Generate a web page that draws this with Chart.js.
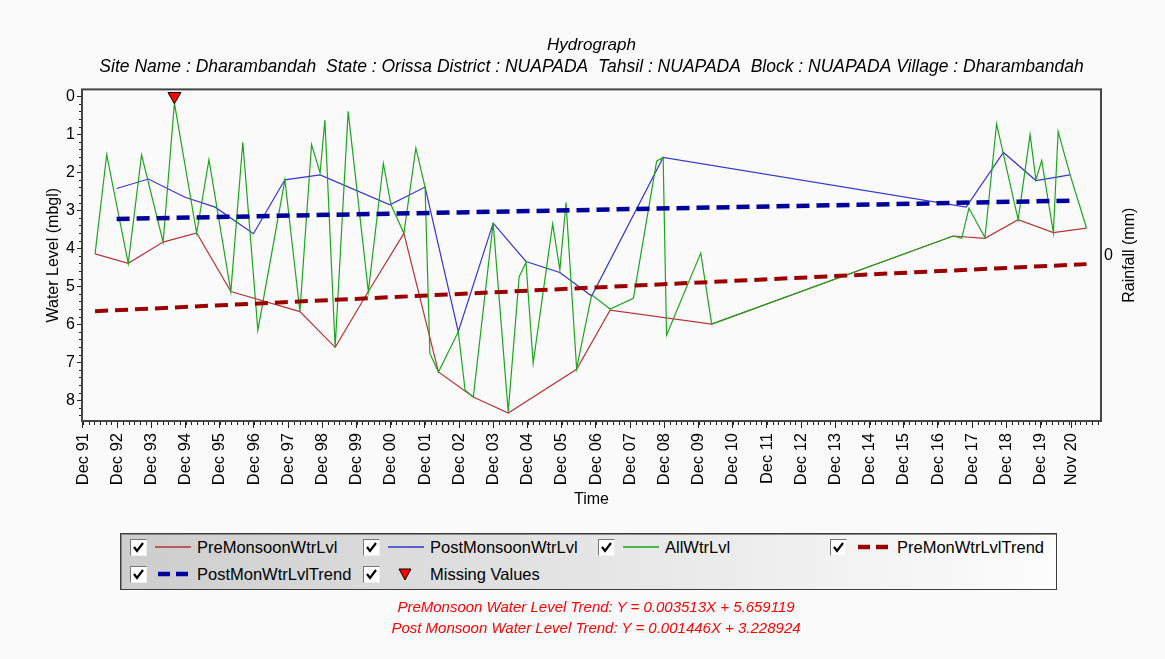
<!DOCTYPE html>
<html>
<head>
<meta charset="utf-8">
<title>Hydrograph</title>
<script src="https://cdn.jsdelivr.net/npm/chart.js@4.4.1/dist/chart.umd.min.js"></script>
<style>
  html, body { margin: 0; padding: 0; background: #fafafa; }
  #wrap { position: relative; width: 1165px; height: 659px; overflow: hidden; font-family: "Liberation Sans", Arial, sans-serif; }
  #chart { position: absolute; left: 0; top: 0; }
  .legend { position: absolute; left: 120px; top: 533px; width: 935px; height: 55px;
    border: 1px solid #3c3c3c; box-shadow: inset 1px 1px 0 #8a8a8a;
    background: linear-gradient(to right, #cdcdcd, #fdfdfd); }
  .item { position: absolute; height: 20px; display: flex; align-items: center; font-size: 16.5px; color: #000; white-space: nowrap; }
  .cb { width: 15px; height: 15px; background: #fff; border: 1px solid; border-color: #777 #eee #eee #777; margin-right: 8px; }
  .cb svg { display: block; }
  .sample { width: 36px; margin-right: 6px; display: block; }
  .formula { position: absolute; left: 296px; width: 600px; text-align: center; color: #ff0000; font-style: italic; font-size: 15px; }
</style>
</head>
<body>
<div id="wrap">
  <canvas id="chart" width="1165" height="659"></canvas>
  <div class="legend" id="legend"></div>
  <div class="formula" style="top:598px">PreMonsoon Water Level Trend: Y = 0.003513X + 5.659119</div>
  <div class="formula" style="top:619px">Post Monsoon Water Level Trend: Y = 0.001446X + 3.228924</div>
</div>
<script>
// tick labels
const xTickLabels = ['Dec 91', 'Dec 92', 'Dec 93', 'Dec 94', 'Dec 95', 'Dec 96', 'Dec 97', 'Dec 98', 'Dec 99', 'Dec 00',
  'Dec 01', 'Dec 02', 'Dec 03', 'Dec 04', 'Dec 05', 'Dec 06', 'Dec 07', 'Dec 08', 'Dec 09', 'Dec 10',
  'Dec 11', 'Dec 12', 'Dec 13', 'Dec 14', 'Dec 15', 'Dec 16', 'Dec 17', 'Dec 18', 'Dec 19', 'Nov 20'];
const yTickValues = [0, 1, 2, 3, 4, 5, 6, 7, 8];
const rainTickValues = [0];

// all water levels (decimal year, mbgl)
const allYears = [1992.27, 1992.61, 1993.24, 1993.63, 1994.26, 1994.59, 1995.24, 1995.60, 1996.24, 1996.59,
  1997.03, 1997.82, 1998.26, 1998.60, 1998.85, 1998.99, 1999.29, 1999.67, 2000.26, 2000.70,
  2000.92, 2001.30, 2001.65, 2001.92, 2002.06, 2002.31, 2002.89, 2003.09, 2003.33, 2003.91,
  2004.35, 2004.67, 2004.87, 2005.08, 2005.65, 2005.86, 2006.04, 2006.35, 2006.79, 2007.33,
  2008.01, 2008.69, 2008.88, 2008.98, 2009.98, 2010.30, 2017.36, 2017.61, 2017.82, 2018.29,
  2018.63, 2019.26, 2019.61, 2019.78, 2019.95, 2020.29, 2020.43, 2020.78, 2021.26];
const allLevels = [4.15, 1.54, 4.40, 1.54, 3.84, 0.18, 3.60, 1.67, 5.14, 1.21,
  6.16, 2.20, 5.67, 1.27, 2.02, 0.63, 6.61, 0.40, 5.14, 1.77,
  2.85, 3.61, 1.36, 2.40, 6.77, 7.26, 6.20, 7.74, 7.92, 3.34,
  8.31, 4.75, 4.38, 7.03, 3.36, 4.57, 2.80, 7.17, 5.23, 5.60,
  5.32, 1.71, 1.61, 6.29, 4.13, 6.00, 3.68, 3.74, 2.95, 3.72,
  0.73, 3.25, 1.01, 2.20, 1.69, 3.59, 0.93, 2.07, 3.47];

// pre monsoon
const preYears = [1992.27, 1993.24, 1994.26, 1995.24, 1996.24, 1998.26, 1999.29, 2000.26, 2001.30, 2002.31,
  2003.33, 2004.35, 2006.35, 2007.33, 2010.30, 2017.36, 2018.29, 2019.26, 2020.29, 2021.26];
const preLevels = [4.15, 4.40, 3.84, 3.60, 5.14, 5.67, 6.61, 5.14, 3.61, 7.26,
  7.92, 8.34, 7.19, 5.63, 6.00, 3.68, 3.74, 3.25, 3.59, 3.47];

// post monsoon
const postYears = [1992.90, 1993.83, 1994.90, 1995.78, 1996.90, 1997.82, 1998.85, 2000.89, 2001.92, 2002.89,
  2003.91, 2004.87, 2005.86, 2006.79, 2008.88, 2017.74, 2018.83, 2019.78, 2020.78];
const postLevels = [2.43, 2.18, 2.66, 2.92, 3.62, 2.20, 2.07, 2.86, 2.39, 6.20,
  3.34, 4.35, 4.64, 5.26, 1.61, 2.92, 1.48, 2.22, 2.07];

// trend lines
const preTrendYears = [1992.27, 2021.26];
const preTrendLevels = [5.66, 4.42];
const postTrendYears = [1992.90, 2020.78];
const postTrendLevels = [3.23, 2.75];

// missing values
const missingYears = [1994.59];
const missingLevels = [0];

const FONT = '"Liberation Sans", Arial, sans-serif';
const months = { Jan: 0, Feb: 1, Mar: 2, Apr: 3, May: 4, Jun: 5, Jul: 6, Aug: 7, Sep: 8, Oct: 9, Nov: 10, Dec: 11 };
const xTickValues = xTickLabels.map(l => {
  const [m, y] = l.split(' ');
  const yr = Number(y) < 50 ? 2000 + Number(y) : 1900 + Number(y);
  return yr + months[m] / 12;
});

function pts(xs, ys) {
  return xs.map((x, i) => ({ x: x, y: ys[i] }));
}

// frame, minor ticks and right axis title
const decorations = {
  id: 'decorations',
  afterDraw(chart) {
    const ctx = chart.ctx;
    const a = chart.chartArea;
    const xs = chart.scales.x;
    const ys = chart.scales.y;
    ctx.save();
    ctx.strokeStyle = '#222';
    ctx.lineWidth = 1;
    ctx.beginPath();
    for (let v = xTickValues[0] - 2 / 12; v <= xs.max; v += 2 / 12) {
      if (v < xs.min) continue;
      const px = Math.round(xs.getPixelForValue(v)) + 0.5;
      ctx.moveTo(px, a.bottom);
      ctx.lineTo(px, a.bottom + 4);
    }
    for (let v = 0; v <= ys.max; v += 0.2) {
      const py = Math.round(ys.getPixelForValue(v)) + 0.5;
      ctx.moveTo(a.left - 3, py);
      ctx.lineTo(a.left, py);
    }
    ctx.stroke();

    ctx.strokeStyle = '#444';
    ctx.lineWidth = 2;
    ctx.strokeRect(a.left, a.top, a.right - a.left, a.bottom - a.top);

    ctx.translate(chart.scales.y2.right - 35, (a.top + a.bottom) / 2);
    ctx.rotate(-Math.PI / 2);
    ctx.fillStyle = '#000';
    ctx.font = '16px ' + FONT;
    ctx.textAlign = 'center';
    ctx.textBaseline = 'middle';
    ctx.fillText('Rainfall (mm)', 0, 0);
    ctx.restore();
  }
};

const tickFont = { family: FONT, size: 16 };

new Chart(document.getElementById('chart'), {
  type: 'line',
  data: {
    datasets: [
      {
        label: 'PreMonsoonWtrLvl',
        data: pts(preYears, preLevels),
        borderColor: '#b53636',
        borderWidth: 1.2,
        pointRadius: 0,
        order: 5
      },
      {
        label: 'PostMonsoonWtrLvl',
        data: pts(postYears, postLevels),
        borderColor: '#3636c8',
        borderWidth: 1.2,
        pointRadius: 0,
        order: 4
      },
      {
        label: 'AllWtrLvl',
        data: pts(allYears, allLevels),
        borderColor: '#1ca51c',
        borderWidth: 1.2,
        pointRadius: 0,
        order: 3
      },
      {
        label: 'PreMonWtrLvlTrend',
        data: pts(preTrendYears, preTrendLevels),
        borderColor: '#9b0000',
        borderWidth: 4,
        borderDash: [13, 7],
        pointRadius: 0,
        order: 2
      },
      {
        label: 'PostMonWtrLvlTrend',
        data: pts(postTrendYears, postTrendLevels),
        borderColor: '#00009b',
        borderWidth: 4.5,
        borderDash: [13, 7],
        pointRadius: 0,
        order: 1
      },
      {
        label: 'Missing Values',
        data: pts(missingYears, missingLevels),
        showLine: false,
        pointStyle: 'triangle',
        rotation: 180,
        pointRadius: 7.5,
        backgroundColor: '#ff0000',
        borderColor: '#000',
        borderWidth: 1,
        clip: false,
        order: 0
      }
    ]
  },
  options: {
    responsive: false,
    animation: false,
    layout: { padding: { top: 0, right: 0, bottom: 148, left: 0 } },
    plugins: {
      legend: { display: false },
      tooltip: { enabled: false },
      title: {
        display: true,
        fullSize: false,
        text: 'Hydrograph',
        color: '#000',
        font: { family: FONT, size: 17, style: 'italic', weight: 'normal' },
        padding: { top: 35, bottom: 0 }
      },
      subtitle: {
        display: true,
        fullSize: false,
        text: 'Site Name : Dharambandah  State : Orissa District : NUAPADA  Tahsil : NUAPADA  Block : NUAPADA Village : Dharambandah',
        color: '#000',
        font: { family: FONT, size: 17.5, style: 'italic', weight: 'normal' },
        padding: { top: 1, bottom: 12 }
      }
    },
    scales: {
      x: {
        type: 'linear',
        min: 1991.888,
        max: 2021.683,
        afterBuildTicks: s => { s.ticks = xTickValues.map(v => ({ value: v })); },
        afterFit: s => { s.height = 90; },
        ticks: {
          autoSkip: false,
          minRotation: 90,
          maxRotation: 90,
          padding: 5,
          color: '#000',
          font: { family: FONT, size: 16.5 },
          callback: (v, i) => xTickLabels[i]
        },
        grid: { drawOnChartArea: false, tickLength: 7, color: '#222' },
        border: { display: false },
        title: { display: true, text: 'Time', color: '#000', font: tickFont, padding: { top: 0, bottom: 2 } }
      },
      y: {
        type: 'linear',
        position: 'left',
        reverse: true,
        min: -0.18,
        max: 8.55,
        afterBuildTicks: s => { s.ticks = yTickValues.map(v => ({ value: v })); },
        afterFit: s => { s.width = 82; },
        ticks: { padding: 2, color: '#000', font: tickFont },
        grid: { drawOnChartArea: false, tickLength: 5, color: '#222' },
        border: { display: false },
        title: { display: true, text: 'Water Level (mbgl)', color: '#000', font: tickFont, padding: { top: 44, bottom: 0 } }
      },
      y2: {
        type: 'linear',
        position: 'right',
        min: -1,
        max: 1,
        afterBuildTicks: s => { s.ticks = rainTickValues.map(v => ({ value: v })); },
        afterFit: s => { s.width = 64; },
        ticks: { padding: 3, color: '#000', font: tickFont },
        grid: { drawOnChartArea: false, drawTicks: false },
        border: { display: false }
      }
    }
  },
  plugins: [decorations]
});

// legend (html)
const check = '<div class="cb"><svg width="15" height="15"><polyline points="3,7 6,11 12,3" fill="none" stroke="#000" stroke-width="2.2"/></svg></div>';
function solid(color) {
  return '<svg class="sample" width="36" height="10"><line x1="0" y1="5" x2="36" y2="5" stroke="' + color + '" stroke-width="1.5"/></svg>';
}
function dashed(color) {
  return '<svg class="sample" width="36" height="10"><line x1="3" y1="5" x2="33" y2="5" stroke="' + color + '" stroke-width="4.5" stroke-dasharray="12 6"/></svg>';
}
const triangle = '<svg class="sample" width="36" height="14"><polygon points="11,2 23,2 17,13" fill="#ff0000" stroke="#000" stroke-width="1"/></svg>';
const legendItems = [
  { left: 9, top: 3, sample: solid('#b53636'), text: 'PreMonsoonWtrLvl' },
  { left: 242, top: 3, sample: solid('#3636c8'), text: 'PostMonsoonWtrLvl' },
  { left: 477, top: 3, sample: solid('#1ca51c'), text: 'AllWtrLvl' },
  { left: 709, top: 3, sample: dashed('#9b0000'), text: 'PreMonWtrLvlTrend' },
  { left: 9, top: 30, sample: dashed('#00009b'), text: 'PostMonWtrLvlTrend' },
  { left: 242, top: 30, sample: triangle, text: 'Missing Values' }
];
const legend = document.getElementById('legend');
legendItems.forEach(it => {
  const div = document.createElement('div');
  div.className = 'item';
  div.style.left = it.left + 'px';
  div.style.top = it.top + 'px';
  div.innerHTML = check + it.sample + '<span>' + it.text + '</span>';
  legend.appendChild(div);
});
</script>
</body>
</html>
